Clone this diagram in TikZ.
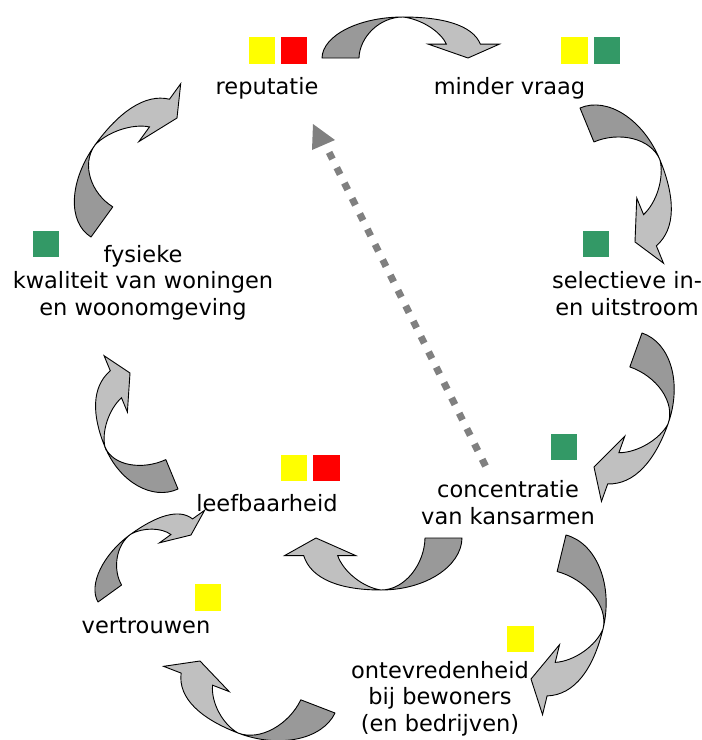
\documentclass[tikz,border=0pt]{standalone}
\usepackage{fontspec}
\setmainfont{DejaVu Sans}
\definecolor{ribbondark}{RGB}{153,153,153}
\definecolor{ribbonlight}{RGB}{192,192,192}
\definecolor{mkyellow}{RGB}{255,255,0}
\definecolor{mkred}{RGB}{255,0,0}
\definecolor{mkgreen}{RGB}{51,153,102}
\definecolor{dashgray}{RGB}{128,128,128}

% One twisted ribbon arrow, drawn in its own affine frame:
% #1 = position of the twist point, #2/#3 = frame vectors.
\newcommand{\ribbonarrow}[3]{%
  \begin{scope}[shift={#1}, x={#2}, y={#3}]
    \path[darkside] (-80,-40) .. controls (-80,-18) and (-44,0) .. (0,0)
      .. controls (-24,0) and (-43,-20) .. (-43,-40) -- cycle;
    \path[lightside] (0,0) .. controls (40,0) and (70,-8) .. (78,-26.5)
      -- (97,-26.5) -- (66,-40) -- (26,-26.5) -- (44,-26.5)
      .. controls (38,-14) and (18,-2) .. (0,0) -- cycle;
  \end{scope}}

\begin{document}
\begin{tikzpicture}[x=1pt,y=-1pt,
  darkside/.style={fill=ribbondark, draw=black, line width=0.9pt, line join=round},
  lightside/.style={fill=ribbonlight, draw=black, line width=0.9pt, line join=miter},
  label/.style={font=\fontsize{22.5}{26.5}\selectfont, align=center, inner sep=0pt, anchor=base},
  marker/.style={minimum size=26.5pt, inner sep=0pt, anchor=north west, draw=none},
]
\useasboundingbox (0,0) rectangle (702,740);
\clip (0,0) rectangle (702,740);

% ribbon arrows around the cycle
\ribbonarrow{(403,17)}{(1pt,0pt)}{(0.025pt,1.025pt)}
\ribbonarrow{(660,160)}{(0.3767pt,-0.9178pt)}{(1.2466pt,0.5355pt)}
\ribbonarrow{(668,424)}{(-0.3288pt,-0.9178pt)}{(1.3075pt,-0.4395pt)}
\ribbonarrow{(603,629)}{(-0.2397pt,-0.9863pt)}{(1.4045pt,-0.3774pt)}
\ribbonarrow{(381,590)}{(-1pt,0pt)}{(-0.025pt,-1.3pt)}
\ribbonarrow{(238,733)}{(-0.9247pt,0.3562pt)}{(-0.5758pt,-1.2124pt)}
\ribbonarrow{(131,534)}{(0.637pt,0.4589pt)}{(-0.449pt,0.7822pt)}
\ribbonarrow{(105,447)}{(-0.3288pt,0.7945pt)}{(-1.1675pt,-0.539pt)}
\ribbonarrow{(95,145)}{(0.589pt,0.815pt)}{(-1.078pt,0.67pt)}

% labels (multi-line labels are placed by their last baseline)
\node[label] (reputatie) at (267,94) {reputatie};
\node[label] (vraag) at (509.5,94) {minder vraag};
\node[label] (fysiek) at (143,315) {fysieke\\kwaliteit van woningen\\en woonomgeving};
\node[label] (selectief) at (627,315) {selectieve in-\\en uitstroom};
\node[label] (leef) at (267,511) {leefbaarheid};
\node[label] (conc) at (508,524.8) {concentratie\\[1.3pt]van kansarmen};
\node[label] (vertrouwen) at (146,633) {vertrouwen};
\node[label] (ontevreden) at (440,731) {ontevredenheid\\bij bewoners\\(en bedrijven)};

% coloured markers
\node[marker, fill=mkyellow] (m1) at (248.5,37) {};
\node[marker, fill=mkred] (m2) at (280.5,37) {};
\node[marker, fill=mkyellow] (m3) at (561,37) {};
\node[marker, fill=mkgreen] (m4) at (593.5,37) {};
\node[marker, fill=mkgreen] (m5) at (32.5,230.5) {};
\node[marker, fill=mkgreen] (m6) at (582.5,230.5) {};
\node[marker, fill=mkgreen] (m7) at (550.5,433.5) {};
\node[marker, fill=mkyellow] (m8) at (280.5,454.5) {};
\node[marker, fill=mkred] (m9) at (313,454.5) {};
\node[marker, fill=mkyellow] (m10) at (194.5,584) {};
\node[marker, fill=mkyellow] (m11) at (507,625.5) {};

% dashed influence arrow
\coordinate (dashfrom) at (485.5,466);
\coordinate (dashto) at (329.1,152.3);
\coordinate (headtip) at (313,124);
\coordinate (headleft) at (312,150);
\coordinate (headright) at (335,140);
\draw[dashgray, line width=7pt, dash pattern=on 7.5pt off 9.65pt] (dashfrom) -- (dashto);
\fill[dashgray] (headtip) -- (headleft) -- (headright) -- cycle;
\end{tikzpicture}
\end{document}
